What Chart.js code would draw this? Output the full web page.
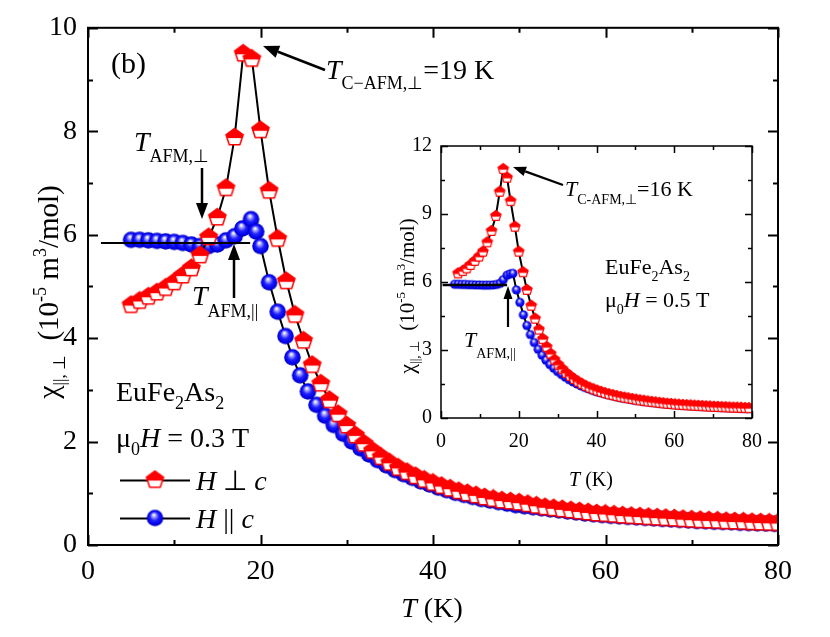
<!DOCTYPE html>
<html><head><meta charset="utf-8">
<script src="https://cdn.jsdelivr.net/npm/chart.js@4/dist/chart.umd.min.js"></script>
<style>
html,body{margin:0;padding:0;background:#fff;}
#wrap{position:relative;width:830px;height:637px;}
canvas{position:absolute;left:0;top:0;}
</style></head><body>
<div id="wrap"><canvas id="main" width="830" height="637"></canvas><canvas id="inset" width="830" height="637"></canvas></div>
<script>
// ---------- DATA ----------
// Main panel, mu0H = 0.3 T
const mainPerpT = [5,6,7,8,9,10,11,12,13,14,15,16,17,18,19,20,21,22,23,24,25,26,27,28,29,30,31,32,33,34,35,36,37,38,39,40,41,42,43,44,45,46,47,48,49,50,51,52,53,54,55,56,57,58,59,60,61,62,63,64,65,66,67,68,69,70,71,72,73,74,75,76,77,78,79,80];
const mainPerpChi = [4.64,4.72,4.80,4.88,4.97,5.08,5.21,5.35,5.60,5.95,6.33,6.90,7.88,9.50,9.40,8.02,6.85,5.92,5.10,4.45,3.95,3.48,3.12,2.80,2.53,2.31,2.12,1.96,1.82,1.70,1.59,1.49,1.41,1.33,1.26,1.20,1.14,1.09,1.04,1.00,0.96,0.92,0.89,0.86,0.84,0.82,0.79,0.76,0.73,0.71,0.69,0.67,0.65,0.63,0.61,0.60,0.585,0.57,0.56,0.55,0.54,0.53,0.52,0.51,0.50,0.49,0.48,0.475,0.47,0.46,0.455,0.45,0.44,0.435,0.43,0.425];
const mainParT = [5,6,7,8,9,10,11,12,13,14,15,16,17,17.9,18.9,19.5,20,21,22,22.9,23.7,24.6,25.5,26.5,27.5,28.5,29.6,30.6,31.6,32.6,33.6,34.6,35.6,36.6,37.6,38.6,39.6,40.6,41.6,42.6,43.6,44.6,45.6,46.6,47.6,48.6,49.6,50.6,51.6,52.6,53.6,54.6,55.6,56.6,57.6,58.6,59.6,60.6,61.6,62.6,63.6,64.6,65.6,66.6,67.6,68.6,69.6,70.6,71.6,72.6,73.6,74.6,75.6,76.6,77.6,78.6,79.6];
const mainParChi = [5.90,5.90,5.89,5.88,5.87,5.86,5.84,5.81,5.78,5.78,5.81,5.89,5.97,6.12,6.30,6.06,5.78,5.08,4.51,4.04,3.63,3.28,2.97,2.71,2.50,2.32,2.15,2.00,1.87,1.75,1.64,1.54,1.45,1.37,1.30,1.23,1.17,1.11,1.06,1.01,0.97,0.93,0.89,0.86,0.83,0.80,0.77,0.75,0.73,0.71,0.69,0.67,0.65,0.63,0.61,0.595,0.58,0.565,0.555,0.545,0.535,0.525,0.515,0.505,0.495,0.485,0.475,0.465,0.46,0.45,0.445,0.44,0.43,0.425,0.42,0.415,0.41];
const mainRefT = [1.5,18.8];
const mainRefChi = [5.84,5.84];
const mainXTicks = [0,20,40,60,80];
const mainXMinor = [10,30,50,70];
const mainYTicks = [0,2,4,6,8,10];
const mainYMinor = [1,3,5,7,9];

// Inset, mu0H = 0.5 T
const insetPerpT = [4.4,5.6,6.6,7.6,8.7,9.8,10.8,11.9,13,14.1,15.1,16,17,17.9,19,20,21.1,22.1,23.2,24.2,25.2,26.2,27.2,28.2,29.2,30.2,31.2,32.2,33.2,34.2,35.2,36.2,37.2,38.2,39.2,40.2,41.2,42.2,43.2,44.2,45.2,46.2,47.2,48.2,49.2,50.2,51.2,52.2,53.2,54.2,55.2,56.2,57.2,58.2,59.2,60.2,61.2,62.2,63.2,64.2,65.2,66.2,67.2,68.2,69.2,70.2,71.2,72.2,73.2,74.2,75.2,76.2,77.2,78.2,79.2];
const insetPerpChi = [6.38,6.48,6.60,6.75,6.93,7.12,7.34,7.75,8.25,8.91,9.98,10.98,10.60,9.57,8.44,7.34,6.43,5.65,4.95,4.38,3.90,3.48,3.13,2.83,2.57,2.35,2.16,1.99,1.85,1.72,1.61,1.51,1.42,1.34,1.27,1.21,1.15,1.10,1.05,1.01,0.97,0.93,0.90,0.87,0.84,0.81,0.78,0.76,0.73,0.71,0.69,0.67,0.65,0.63,0.62,0.60,0.59,0.575,0.565,0.555,0.545,0.535,0.525,0.515,0.505,0.495,0.49,0.48,0.475,0.465,0.46,0.455,0.45,0.44,0.435];
const insetParT = [3.5,4.4,5.3,6.2,7.1,8,8.9,9.8,10.7,11.6,12.5,13.4,14.3,15.2,16,17,17.8,18.5,19.4,20.3,21.2,22.1,23,24,25,26,27,28,29,30,31,32,33,34,35,36,37,38,39,40,41,42,43,44,45,46,47,48,49,50,51,52,53,54,55,56,57,58,59,60,61,62,63,64,65,66,67,68,69,70,71,72,73,74,75,76,77,78,79,80];
const insetParChi = [5.90,5.90,5.89,5.89,5.88,5.88,5.87,5.87,5.86,5.86,5.86,5.87,5.89,5.94,6.10,6.30,6.36,6.38,5.65,5.10,4.55,4.08,3.68,3.33,3.03,2.77,2.55,2.36,2.20,2.05,1.92,1.80,1.69,1.59,1.50,1.42,1.35,1.28,1.22,1.16,1.11,1.06,1.02,0.98,0.94,0.90,0.87,0.84,0.81,0.78,0.76,0.73,0.71,0.69,0.67,0.65,0.63,0.615,0.60,0.585,0.57,0.56,0.55,0.54,0.53,0.52,0.51,0.50,0.49,0.48,0.475,0.465,0.46,0.45,0.445,0.44,0.43,0.425,0.42,0.415];
const insetRefT = [0.4,17];
const insetRefChi = [5.87,5.87];
const insetXTicks = [0,20,40,60,80];
const insetXMinor = [10,30,50,70];
const insetYTicks = [0,3,6,9,12];
const insetYMinor = [1.5,4.5,7.5,10.5];

// ---------- helpers ----------
const FAM = '"Liberation Serif","Times New Roman",serif';
Chart.defaults.font.family = FAM;
Chart.defaults.color = '#000';

function pts(xs, ys){ return xs.map((x,i)=>({x:x, y:ys[i]})); }

function pentagonMarker(r){
  const s = Math.ceil(2*r+3), c = document.createElement('canvas');
  c.width = s; c.height = s;
  const g = c.getContext('2d'), cx = s/2, cy = s/2;
  const path = () => { g.beginPath();
    for(let i=0;i<5;i++){ const a=-Math.PI/2+i*2*Math.PI/5;
      const x=cx+r*Math.cos(a), y=cy+r*Math.sin(a); i?g.lineTo(x,y):g.moveTo(x,y);} g.closePath(); };
  path(); g.fillStyle='#fff'; g.fill();
  g.save(); path(); g.clip(); g.fillStyle='#ff0000'; g.fillRect(0,0,s,cy+0.6); g.restore();
  path(); g.lineWidth = Math.max(1.2, r*0.17); g.strokeStyle='#ff0000'; g.stroke();
  return c;
}
function sphereMarker(r){
  const s = Math.ceil(2*r+2), c = document.createElement('canvas');
  c.width = s; c.height = s;
  const g = c.getContext('2d'), cx = s/2, cy = s/2;
  const gr = g.createRadialGradient(cx-0.15*r, cy-0.4*r, 0.05*r, cx, cy, r);
  gr.addColorStop(0,'#ffffff'); gr.addColorStop(0.22,'#9a9aff'); gr.addColorStop(0.5,'#2020ff');
  gr.addColorStop(0.85,'#0000e6'); gr.addColorStop(1,'#0000b0');
  g.beginPath(); g.arc(cx,cy,r,0,Math.PI*2); g.fillStyle=gr; g.fill();
  return c;
}
function rich(ctx, x, y, segs, align){
  let w = 0;
  for(const s of segs){ ctx.font = (s[2]||'')+' '+s[1]+'px '+FAM; w += ctx.measureText(s[0]).width; }
  let cx = align==='center' ? x-w/2 : (align==='right' ? x-w : x);
  ctx.textAlign='left'; ctx.textBaseline='alphabetic'; ctx.fillStyle='#000';
  for(const s of segs){ ctx.font = (s[2]||'')+' '+s[1]+'px '+FAM; ctx.fillText(s[0], cx, y+(s[3]||0)); cx += ctx.measureText(s[0]).width; }
}
function arrow(ctx, x1,y1,x2,y2, lw, hl, hw){
  const a = Math.atan2(y2-y1, x2-x1);
  const bx = x2 - hl*Math.cos(a), by = y2 - hl*Math.sin(a);
  ctx.strokeStyle='#000'; ctx.fillStyle='#000'; ctx.lineWidth=lw;
  ctx.beginPath(); ctx.moveTo(x1,y1); ctx.lineTo(bx,by); ctx.stroke();
  ctx.beginPath(); ctx.moveTo(x2,y2);
  ctx.lineTo(bx + hw*Math.sin(a), by - hw*Math.cos(a));
  ctx.lineTo(bx - hw*Math.sin(a), by + hw*Math.cos(a)); ctx.closePath(); ctx.fill();
}
function frameTicks(chart, lw, maj, mnr, xM, xm, yM, ym){
  const ctx = chart.ctx, a = chart.chartArea, xs = chart.scales.x, ys = chart.scales.y;
  ctx.save(); ctx.strokeStyle='#000'; ctx.lineWidth=lw;
  ctx.strokeRect(a.left, a.top, a.right-a.left, a.bottom-a.top);
  ctx.beginPath();
  const vx = (v,L)=>{ const p = Math.round(xs.getPixelForValue(v))+0.5;
    ctx.moveTo(p,a.bottom); ctx.lineTo(p,a.bottom-L); ctx.moveTo(p,a.top); ctx.lineTo(p,a.top+L); };
  const vy = (v,L)=>{ const p = Math.round(ys.getPixelForValue(v))+0.5;
    ctx.moveTo(a.left,p); ctx.lineTo(a.left+L,p); ctx.moveTo(a.right,p); ctx.lineTo(a.right-L,p); };
  xM.forEach(v=>vx(v,maj)); xm.forEach(v=>vx(v,mnr)); yM.forEach(v=>vy(v,maj)); ym.forEach(v=>vy(v,mnr));
  ctx.stroke(); ctx.restore();
}

const pentBig = pentagonMarker(9), sphBig = sphereMarker(8.3);
const pentSmall = pentagonMarker(5.4), sphSmall = sphereMarker(4.6);

// ---------- MAIN CHART ----------
const mainPlugin = {
  id:'mainDeco',
  afterDatasetsDraw(chart){
    frameTicks(chart, 2, 10, 5, mainXTicks, mainXMinor, mainYTicks, mainYMinor);
  },
  afterDraw(chart){
    const ctx = chart.ctx; ctx.save();
    rich(ctx, 111, 73, [['(b)',30]]);
    rich(ctx, 326, 79, [['T',28,'italic'],['C\u2212AFM,\u22A5',18,'',10],['=19 K',28]]);
    arrow(ctx, 325,70, 263,46, 2.5, 16, 6.5);
    rich(ctx, 134, 151, [['T',28,'italic'],['AFM,\u22A5',18,'',11]]);
    arrow(ctx, 202,168, 202,219, 2.5, 16, 6);
    rich(ctx, 192, 305, [['T',28,'italic'],['AFM,||',18,'',12]]);
    arrow(ctx, 234,298, 234,244, 2.5, 16, 6);
    rich(ctx, 116, 401, [['EuFe',28],['2',18,'',8],['As',28],['2',18,'',8]]);
    rich(ctx, 116, 447, [['\u03BC',28],['0',18,'',8],['H',28,'italic'],[' = 0.3 T',28]]);
    // legend
    ctx.strokeStyle='#000'; ctx.lineWidth=2;
    ctx.beginPath(); ctx.moveTo(120,480.5); ctx.lineTo(190,480.5); ctx.moveTo(120,518.5); ctx.lineTo(190,518.5); ctx.stroke();
    ctx.drawImage(pentBig, 155-pentBig.width/2, 480-pentBig.height/2);
    ctx.drawImage(sphBig, 155-sphBig.width/2, 518-sphBig.height/2);
    rich(ctx, 196, 490, [['H',28,'italic'],[' \u22A5 ',28],['c',28,'italic']]);
    rich(ctx, 196, 528, [['H',28,'italic'],[' || ',28],['c',28,'italic']]);
    // axis titles
    rich(ctx, 432, 617, [['T',28,'italic'],[' (K)',28]], 'center');
    ctx.save(); ctx.translate(58, 292); ctx.rotate(-Math.PI/2);
    rich(ctx, 0, 0, [['\u03C7',30],['||, \u22A5',17,'',7],['  (10',29],['-5',18,'',-12],[' m',29],['3',18,'',-12],['/mol)',29]], 'center');
    ctx.restore();
    ctx.restore();
  }
};

new Chart(document.getElementById('main'), {
  type:'scatter',
  data:{ datasets:[
    { data: pts(mainRefT, mainRefChi), showLine:true, borderColor:'#000', borderWidth:2, pointRadius:0, order:0 },
    { data: pts(mainPerpT, mainPerpChi), showLine:true, borderColor:'#000', borderWidth:2, pointStyle: pentBig, order:1 },
    { data: pts(mainParT, mainParChi), showLine:true, borderColor:'#000', borderWidth:2, pointStyle: sphBig, order:2 }
  ]},
  options:{
    responsive:false, animation:false, devicePixelRatio:1,
    layout:{ padding:{ left:0, top:17, right:52, bottom:0 } },
    plugins:{ legend:{display:false}, tooltip:{enabled:false} },
    events:[],
    scales:{
      x:{ type:'linear', min:0, max:80,
        grid:{ display:false, drawTicks:false }, border:{ display:false },
        ticks:{ font:{size:28}, padding:10, autoSkip:false, maxRotation:0 },
        afterBuildTicks:(s)=>{ s.ticks = mainXTicks.map(v=>({value:v})); },
        afterFit:(s)=>{ s.height = 92; } },
      y:{ type:'linear', min:0, max:10,
        grid:{ display:false, drawTicks:false }, border:{ display:false },
        ticks:{ font:{size:28}, padding:11, autoSkip:false },
        afterBuildTicks:(s)=>{ s.ticks = mainYTicks.map(v=>({value:v})); },
        afterFit:(s)=>{ s.width = 88; } }
    }
  },
  plugins:[mainPlugin]
});

// ---------- INSET CHART ----------
const insetPlugin = {
  id:'insetDeco',
  afterDatasetsDraw(chart){
    frameTicks(chart, 1.5, 7, 4, insetXTicks, insetXMinor, insetYTicks, insetYMinor);
  },
  afterDraw(chart){
    const ctx = chart.ctx; ctx.save();
    rich(ctx, 565, 196, [['T',22,'italic'],['C-AFM,\u22A5',14,'',8],['=16 K',22]]);
    arrow(ctx, 563,185, 513,167, 2.2, 13, 5);
    rich(ctx, 464, 347, [['T',22,'italic'],['AFM,||',14,'',11]]);
    arrow(ctx, 508,327, 508,286, 2.2, 13, 4.5);
    rich(ctx, 605, 274, [['EuFe',22],['2',14,'',7],['As',22],['2',14,'',7]]);
    rich(ctx, 605, 307, [['\u03BC',22],['0',14,'',7],['H',22,'italic'],[' = 0.5 T',22]]);
    rich(ctx, 591, 486, [['T',20,'italic'],[' (K)',20]], 'center');
    ctx.save(); ctx.translate(414, 296); ctx.rotate(-Math.PI/2);
    rich(ctx, 0, 0, [['\u03C7',22],['||, \u22A5',13,'',5],['  (10',21],['-5',13,'',-9],[' m',21],['3',13,'',-9],['/mol)',21]], 'center');
    ctx.restore();
    ctx.restore();
  }
};

new Chart(document.getElementById('inset'), {
  type:'scatter',
  data:{ datasets:[
    { data: pts(insetRefT, insetRefChi), showLine:true, borderColor:'#000', borderWidth:2.5, pointRadius:0, order:0 },
    { data: pts(insetPerpT, insetPerpChi), showLine:true, borderColor:'#000', borderWidth:2, pointStyle: pentSmall, order:1 },
    { data: pts(insetParT, insetParChi), showLine:true, borderColor:'#000', borderWidth:2, pointStyle: sphSmall, order:2 }
  ]},
  options:{
    responsive:false, animation:false, devicePixelRatio:1,
    layout:{ padding:{ left:0, top:146, right:78, bottom:0 } },
    plugins:{ legend:{display:false}, tooltip:{enabled:false} },
    events:[],
    scales:{
      x:{ type:'linear', min:0, max:80,
        grid:{ display:false, drawTicks:false }, border:{ display:false },
        ticks:{ font:{size:20}, padding:12, autoSkip:false, maxRotation:0 },
        afterBuildTicks:(s)=>{ s.ticks = insetXTicks.map(v=>({value:v})); },
        afterFit:(s)=>{ s.height = 219; } },
      y:{ type:'linear', min:0, max:12,
        grid:{ display:false, drawTicks:false }, border:{ display:false },
        ticks:{ font:{size:20}, padding:9, autoSkip:false },
        afterBuildTicks:(s)=>{ s.ticks = insetYTicks.map(v=>({value:v})); },
        afterFit:(s)=>{ s.width = 441; } }
    }
  },
  plugins:[insetPlugin]
});
</script>
</body></html>
